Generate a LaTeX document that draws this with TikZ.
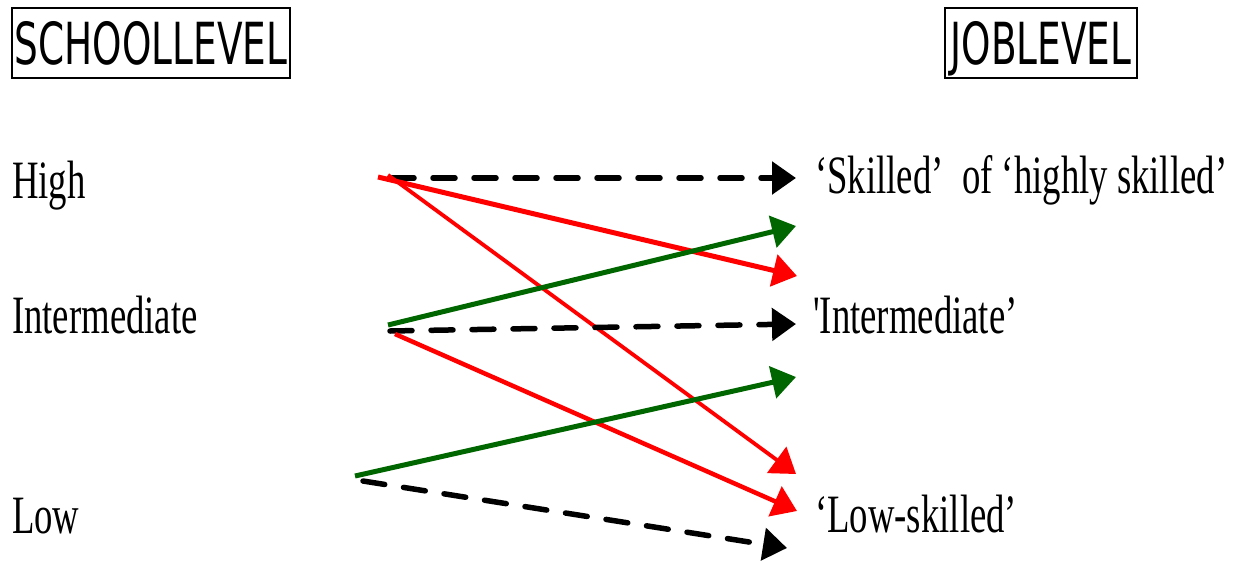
\documentclass[tikz,border=0pt]{standalone}
\usepackage{graphicx}
\usepackage{fontspec}
\setmainfont{Liberation Serif}
\newfontfamily\hdrfont{DejaVu Sans}
\newfontfamily\plainserif{Liberation Serif}[Ligatures=ResetAll]
\usetikzlibrary{arrows.meta}
\definecolor{linkred}{RGB}{255,0,0}
\definecolor{linkgreen}{RGB}{0,102,0}
% narrow, condensed-looking lettering
\newcommand\narrowtxt[1]{\scalebox{0.68}[1]{#1}}
\newcommand\narrowhdr[1]{\scalebox{0.645}[1]{#1}}

\begin{document}
\begin{tikzpicture}[x=1pt,y=-1pt,
  level/.style={anchor=base west, inner sep=0pt, font=\fontsize{54}{60}\selectfont},
  header/.style={draw, line width=2.5pt, inner sep=0pt, minimum height=70pt,
    text height=42pt, text depth=0pt, font=\hdrfont\fontsize{58}{60}\selectfont},
  link/.style={line width=5pt, -{Triangle[length=24pt,width=32pt]}},
  same/.style={link, black, line width=5.5pt, line cap=round, dash pattern=on 22pt off 19pt},
  up/.style={link, linkgreen},
  down/.style={link, linkred},
]
\useasboundingbox (0,0) rectangle (1238,560);

% column headers
\node[header, minimum width=278pt] (school) at (151,43) {\narrowhdr{SCHOOLLEVEL}};
\node[header, minimum width=192pt] (job) at (1041,43) {\narrowhdr{JOBLEVEL}};

% school levels
\node[level] (high) at (12,198) {\narrowtxt{High}};
\node[level] (inter) at (12,333) {\narrowtxt{Intermediate}};
\node[level] (low) at (12,533) {\narrowtxt{Low}};

% job levels
\node[level] (jhigh) at (815,193) {\narrowtxt{‘Skilled’\ \ of ‘highly skilled’}};
\node[level] (jinter) at (813,333) {\narrowtxt{{\plainserif\symbol{"27}}Intermediate’}};
\node[level] (jlow) at (815,532) {\narrowtxt{‘Low-skilled’}};

% arrow end points
\coordinate (h1) at (392,178);  \coordinate (t1) at (796,178);
\coordinate (h2) at (378,177);  \coordinate (t2) at (797,276);
\coordinate (h3) at (388,175);  \coordinate (t3) at (796,474);
\coordinate (i1) at (388,325);  \coordinate (t4) at (796,226);
\coordinate (i2) at (390,331);  \coordinate (t5) at (796,324);
\coordinate (i3) at (395,334);  \coordinate (t6) at (797,511);
\coordinate (l1) at (355,476);  \coordinate (t7) at (796,377);
\coordinate (l2) at (363,481);  \coordinate (t8) at (787,548);

% transitions between levels
\draw[same] (h1) -- (t1);
\draw[down] (h2) -- (t2);
\draw[down, line width=3.8pt] (h3) -- (t3);
\draw[up] (i1) -- (t4);
\draw[same] (i2) -- (t5);
\draw[down, line width=4.5pt] (i3) -- (t6);
\draw[up] (l1) -- (t7);
\draw[same] (l2) -- (t8);
\end{tikzpicture}
\end{document}
